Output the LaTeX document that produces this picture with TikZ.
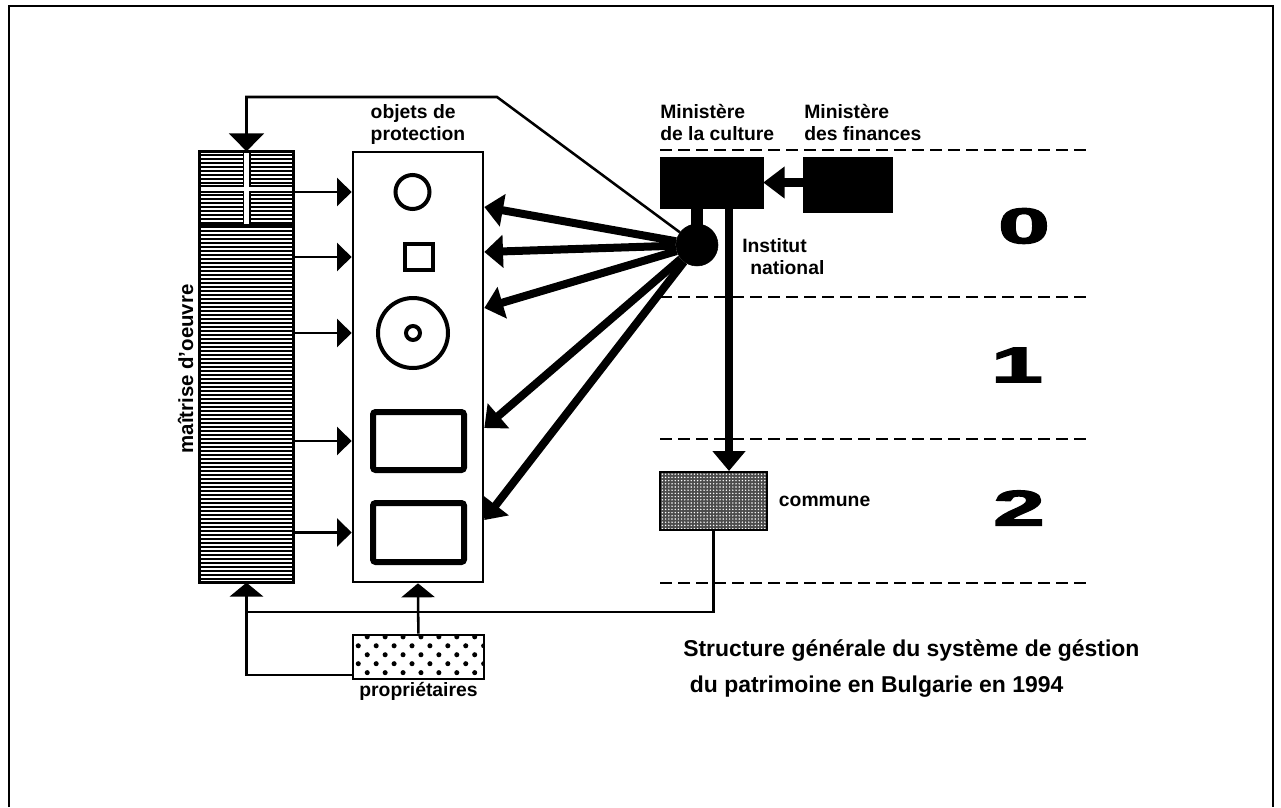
\documentclass[tikz,border=0pt]{standalone}
\usepackage{fontspec}
\setmainfont{Liberation Sans}
\newfontfamily\chiffres[BoldFeatures={FakeBold=2.5}]{Liberation Sans}
\usetikzlibrary{arrows.meta,positioning,patterns.meta}
\newlength{\pix}\setlength{\pix}{0.75pt}
\tikzset{
  cadre/.style={draw,line width=2pt,inner sep=0pt},
  noir/.style={draw,fill=black,inner sep=0pt},
  forme/.style={draw,line width=3pt,inner sep=0pt},
  fleche/.style={line width=1.9pt,-{Triangle[length=11pt,width=21pt]}},
  flechehaut/.style={line width=1.9pt,-{Triangle[length=10.5pt,width=25pt]}},
  grosse/.style={line width=6pt,-{Triangle[length=14pt,width=24pt]}},
  tirets/.style={line width=2.2pt,dash pattern=on 9pt off 4.5pt},
  etiquette/.style={font=\fontsize{14.5}{16.5}\selectfont\bfseries,inner sep=0pt,align=left},
  titre/.style={font=\fontsize{17.2}{27}\selectfont\bfseries,inner sep=0pt,align=left},
  chiffre/.style={font=\fontsize{37.5}{40}\selectfont\chiffres\bfseries,inner sep=0pt},
}
\begin{document}
\begin{tikzpicture}[x=0.75pt,y=-0.75pt]
  \useasboundingbox (0,0) rectangle (1281,807);
  % cadre de la page
  \draw[line width=1.5pt] (9,807) -- (9,6) -- (1273,6) -- (1273,807);

  % niveaux 0, 1, 2
  \foreach \y in {150,297,439,583}
    \draw[tirets] (660,\y) -- (1088,\y);
  \node[chiffre] (niv0) at (1024,226) {\scalebox{1.85}[1]{0}};
  \node[chiffre] (niv1) at (1017,365) {\scalebox{1.85}[1]{1}};
  \node[chiffre] (niv2) at (1019,508) {\scalebox{1.85}[1]{2}};

  % maitrise d'oeuvre
  \node[cadre,minimum width=93\pix,minimum height=430\pix,
        pattern={Lines[distance=3pt,line width=0.9pt]}] (maitrise) at (246.5,367) {};
  \draw[line width=6pt] (246.5,152) -- (246.5,226) (200,189) -- (293,189);
  \draw[white,line width=3.5pt] (246.5,153) -- (246.5,225) (201,189) -- (292,189);
  \draw[line width=3pt] (200,226) -- (293,226);
  \draw[line width=2pt] (maitrise.north west) rectangle (maitrise.south east);
  \node[etiquette,font=\fontsize{15.3}{17}\selectfont\bfseries,rotate=90,anchor=base] (lmaitrise) at (193,369) {maîtrise d'oeuvre};

  % objets de protection
  \node[cadre,minimum width=130\pix,minimum height=430\pix] (objets) at (418,367) {};
  \node[etiquette,anchor=north] (lobjets) at (418,104) {objets de\\protection};
  \node[forme,circle,minimum size=34\pix] (o1) at (412.5,192) {};
  \node[forme,minimum width=28\pix,minimum height=26\pix] (sq) at (419,257) {};
  \node[forme,circle,minimum size=70\pix] (ring) at (413,333) {};
  \node[forme,circle,minimum size=14\pix] (ringc) at (ring) {};
  \node[forme,line width=4.5pt,rounded corners=2pt,minimum width=91\pix,minimum height=58\pix] (r1) at (418.5,441) {};
  \node[forme,line width=4.5pt,rounded corners=2pt,minimum width=91\pix,minimum height=59\pix] (r2) at (418.5,532.5) {};
  \foreach \o in {o1,sq,ring,r1,r2}
    \draw[fleche] (maitrise.east |- \o) -- (objets.west |- \o);

  % ministeres et institut
  \node[noir,minimum width=103\pix,minimum height=51\pix] (culture) at (711.5,182.5) {};
  \node[noir,minimum width=89\pix,minimum height=55\pix] (finances) at (847.5,184.5) {};
  \node[etiquette,anchor=north west] (lculture) at (660,104) {Ministère\\de la culture};
  \node[etiquette,anchor=north west] (lfinances) at (804,104) {Ministère\\des finances};
  \draw[line width=7pt,-{Triangle[length=16pt,width=23pt]}] (finances.west |- culture) -- (culture.east);
  \draw[line width=9pt] (culture.south -| 697,0) -- (697,235);
  \node[noir,circle,minimum size=42\pix] (inst) at (697,245) {};
  \node[etiquette,anchor=north west] (linst) at (742,238) {Institut\\\hspace*{6pt}national};
  \foreach \y in {207,252,308,428,520}
    \draw[grosse] (inst) -- (objets.east |- 0,\y);
  \coordinate (k1) at (497,97);
  \draw[line width=1.9pt,-{Triangle[length=13.5pt,width=26pt]}] (inst) -- (k1) -| (maitrise.north);

  % commune
  \node[draw,line width=1.5pt,inner sep=0pt,minimum width=107\pix,minimum height=58\pix,
        preaction={fill=black!70},pattern={Dots[distance=2.4pt,radius=0.6pt]},pattern color=white] (commune) at (713.5,501) {};
  \node[etiquette,right=8pt of commune] (lcommune) {commune};
  \draw[grosse,-{Triangle[length=15pt,width=24pt]}] (culture.south -| 729,0) -- (commune.north -| 729,0);

  % proprietaires
  \node[cadre,minimum width=131\pix,minimum height=44\pix,
        pattern={Dots[distance=9.5pt,angle=45,radius=1.9pt]}] (prop) at (418.5,657) {};
  \node[etiquette,below=1pt of prop] (lprop) {propriétaires};
  \coordinate (j1) at (246.5,612);
  \draw[flechehaut] (commune.south) |- (j1) -- (maitrise.south);
  \draw[line width=1.9pt] (prop.west |- 0,675) -| (j1);
  \draw[flechehaut] (prop) -- (objets.south);

  % titre
  \node[titre,anchor=north west] (titre) at (683,639) {Structure générale du système de géstion\\\hspace*{5pt}du patrimoine en Bulgarie en 1994};
\end{tikzpicture}
\end{document}
